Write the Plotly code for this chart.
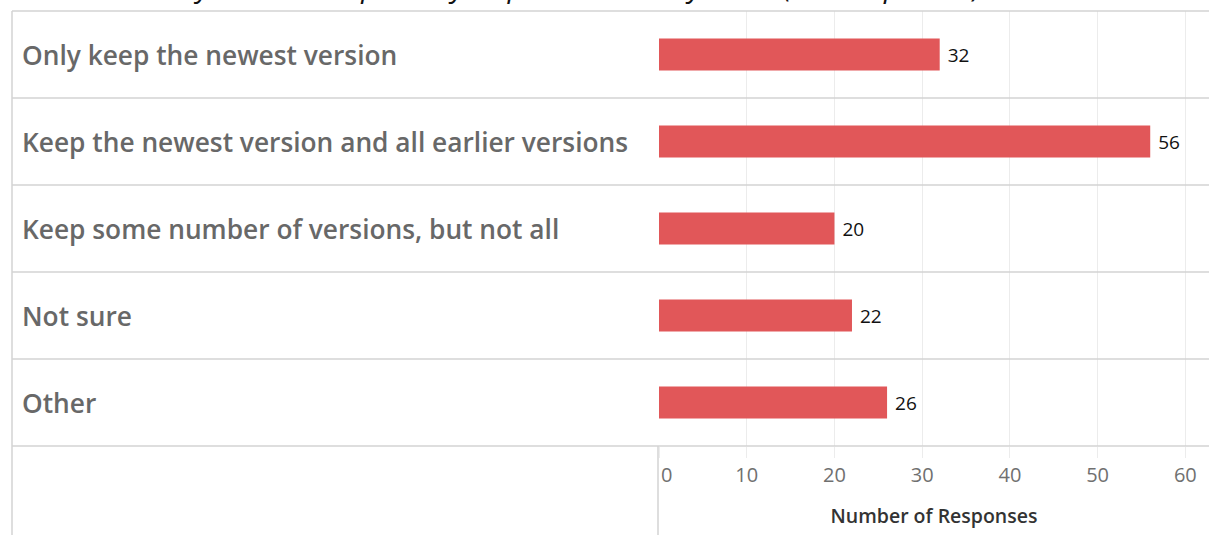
import plotly.graph_objects as go

categories = [
    "Only keep the newest version",
    "Keep the newest version and all earlier versions",
    "Keep some number of versions, but not all",
    "Not sure",
    "Other",
]
responses = [32, 56, 20, 22, 26]
x_ticks = [0, 10, 20, 30, 40, 50, 60]
title_text = "data stored in your main repository or preservation system? (Not responses)"
x_title = "Number of Responses"

W, H = 1209, 535
L, T, B = 659, 11, 89
plot_w = W - L
plot_h = H - T - B

def px_x(p):
    return (p - L) / plot_w

def px_y(p):
    return (H - B - p) / plot_h

BAR = "#e15759"
LINE = "#d3d3d3"
GRID = "#ececec"

fig = go.Figure()
fig.add_trace(go.Bar(
    y=categories,
    x=responses,
    orientation="h",
    width=0.37,
    marker=dict(color=BAR, line=dict(width=0)),
    text=responses,
    texttemplate="\u00a0%{x}",
    textposition="outside",
    textfont=dict(family="Open Sans", size=19, color="#111111"),
    cliponaxis=False,
    hoverinfo="skip",
))

# category labels
for c in categories:
    fig.add_annotation(
        x=px_x(20), xref="paper", xanchor="left",
        y=c, yref="y", yanchor="middle",
        text=c, showarrow=False,
        font=dict(family="Open Sans", size=26.3, color="#686868", weight=600),
    )

# row separators
n = len(categories)
for k in range(n + 1):
    fig.add_shape(type="line", xref="paper", yref="paper",
                  x0=px_x(12), x1=1, y0=k / n, y1=k / n,
                  line=dict(color=LINE, width=1.5), layer="above")
# left border
fig.add_shape(type="line", xref="paper", yref="paper",
              x0=px_x(12), x1=px_x(12), y0=1, y1=px_y(H),
              line=dict(color=LINE, width=1.5))
# axis area left border
fig.add_shape(type="line", xref="paper", yref="paper",
              x0=px_x(658), x1=px_x(658), y0=0, y1=px_y(H),
              line=dict(color=LINE, width=1.5))

# clipped title
fig.add_annotation(
    x=px_x(8), xref="paper", xanchor="left",
    y=px_y(7), yref="paper", yanchor="bottom",
    text=f"<i>{title_text}</i>", showarrow=False,
    font=dict(family="Open Sans", size=29, color="#111111"),
)

tick_text = ["\u00a0\u00a0\u00a0" + str(v) if v == 0 else str(v) for v in x_ticks]

fig.update_layout(
    width=W, height=H,
    margin=dict(l=L, r=0, t=T, b=B, pad=0),
    paper_bgcolor="white", plot_bgcolor="white",
    showlegend=False,
    xaxis=dict(
        range=[0, 62.7],
        tickvals=x_ticks,
        ticktext=tick_text,
        showgrid=True, gridcolor=GRID, gridwidth=1,
        zeroline=False, showline=False,
        ticks="outside", ticklen=11, tickcolor=GRID, tickwidth=1,
        tickfont=dict(family="Open Sans", size=20, color="#707070"),
        title=dict(text=x_title, standoff=22,
                   font=dict(family="Open Sans", size=19.5, color="#333333", weight=600)),
        fixedrange=True,
    ),
    yaxis=dict(
        categoryorder="array", categoryarray=categories,
        autorange="reversed",
        showticklabels=False, showgrid=False, zeroline=False, showline=False,
        ticks="",
        fixedrange=True,
    ),
)

fig.write_html("out.html")
